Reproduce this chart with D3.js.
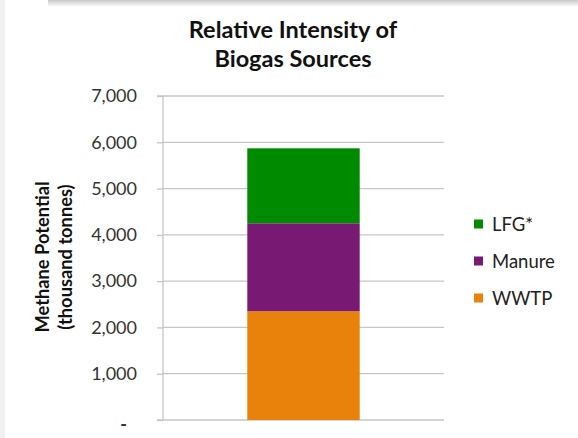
<!DOCTYPE html>
<html>
<head>
<meta charset="utf-8">
<script src="https://cdn.jsdelivr.net/npm/d3@7"></script>
<style>
  body { margin: 0; background: #fff; }
  svg { display: block; }
</style>
</head>
<body>
<svg width="578" height="438"></svg>
<script>
// data
var categories = ["Biogas"];
var seriesNames = ["WWTP", "Manure", "LFG*"];
var wwtp = [2350];
var manure = [1900];
var lfg = [1620];
var yTicks = [0, 1000, 2000, 3000, 4000, 5000, 6000, 7000];
var colors = ["#e8820a", "#781a73", "#008a00"];

var svg = d3.select("svg");
var font = "Lato, 'Open Sans', sans-serif";

// frame shadow (screenshot edges)
var defs = svg.append("defs");
var g1 = defs.append("linearGradient").attr("id", "topShade").attr("x1", 0).attr("y1", 0).attr("x2", 0).attr("y2", 1);
g1.append("stop").attr("offset", "0%").attr("stop-color", "#c8c8c8");
g1.append("stop").attr("offset", "100%").attr("stop-color", "#ffffff");
svg.append("rect").attr("x", 48).attr("y", 0).attr("width", 530).attr("height", 7).attr("fill", "url(#topShade)");
svg.append("rect").attr("x", 0).attr("y", 0).attr("width", 5).attr("height", 438).attr("fill", "#f1f1f1");

var margin = {left: 163, right: 578 - 444, top: 96, bottom: 438 - 420};
var w = 578 - margin.left - margin.right;
var h = 438 - margin.top - margin.bottom;

var x = d3.scaleBand().domain(categories).range([0, w]).paddingInner(0.4286).paddingOuter(0.4286);
var y = d3.scaleLinear().domain([0, 7000]).range([h, 0]);

var plot = svg.append("g").attr("transform", "translate(" + margin.left + "," + margin.top + ")");

// gridlines
plot.append("g").selectAll("line").data(yTicks.slice(1)).enter().append("line")
  .attr("x1", 0).attr("x2", w)
  .attr("y1", function(d){ return y(d); }).attr("y2", function(d){ return y(d); })
  .attr("stroke", "#c6c6c6").attr("stroke-width", 1.3);

// y axis
var yAxis = d3.axisLeft(y).tickValues(yTicks).tickSize(6).tickPadding(6)
  .tickFormat(function(d){ return d === 0 ? "-" : d3.format(",")(d); });
var ya = plot.append("g").call(yAxis);
ya.select(".domain").attr("stroke", "#c6c6c6").attr("stroke-width", 1.3).attr("d", "M-6," + h + "H0V0H-6");
ya.selectAll(".tick line").attr("stroke", "#c6c6c6").attr("stroke-width", 1.3);
ya.selectAll(".tick text").attr("font-family", font).attr("font-size", "18px").attr("fill", "#333")
  .attr("dx", "-14px");
ya.select(".tick text").attr("dy", "0.6em").attr("dx", "-24px").attr("font-weight", "bold");

// x baseline
plot.append("line").attr("x1", 0).attr("x2", w).attr("y1", h).attr("y2", h)
  .attr("stroke", "#c6c6c6").attr("stroke-width", 1.3);

// stacked bars
var table = categories.map(function(c, i){ return {cat: c, "WWTP": wwtp[i], "Manure": manure[i], "LFG*": lfg[i]}; });
var stacked = d3.stack().keys(seriesNames)(table);

plot.append("g").selectAll("g").data(stacked).enter().append("g")
  .attr("fill", function(d, i){ return colors[i]; })
  .selectAll("rect").data(function(d){ return d; }).enter().append("rect")
  .attr("x", function(d){ return x(d.data.cat); })
  .attr("width", x.bandwidth())
  .attr("y", function(d){ return y(d[1]); })
  .attr("height", function(d){ return y(d[0]) - y(d[1]); });

// title
var title = svg.append("text").attr("text-anchor", "middle").attr("font-family", font)
  .attr("font-weight", "bold").attr("font-size", "23.5px").attr("fill", "#111");
title.append("tspan").attr("x", 293).attr("y", 38).text("Relative Intensity of");
title.append("tspan").attr("x", 293).attr("y", 67).text("Biogas Sources");

// y axis title
var yt = svg.append("text").attr("transform", "translate(49,257) rotate(-90)")
  .attr("text-anchor", "middle").attr("font-family", font).attr("font-weight", "bold")
  .attr("font-size", "18.3px").attr("fill", "#111");
yt.append("tspan").attr("x", 0).attr("y", 0).text("Methane Potential");
yt.append("tspan").attr("x", 0).attr("y", 23).text("(thousand tonnes)");

// legend
var legendOrder = ["LFG*", "Manure", "WWTP"];
var legendY = [224, 261, 298];
var lg = svg.append("g").selectAll("g").data(legendOrder).enter().append("g")
  .attr("transform", function(d, i){ return "translate(474," + legendY[i] + ")"; });
lg.append("rect").attr("x", 0).attr("y", -4.5).attr("width", 9).attr("height", 9)
  .attr("fill", function(d){ return colors[seriesNames.indexOf(d)]; });
lg.append("text").attr("x", 18).attr("y", 0).attr("dy", "0.36em")
  .attr("font-family", font).attr("font-size", "18.5px").attr("fill", "#222")
  .text(function(d){ return d; });
</script>
</body>
</html>
